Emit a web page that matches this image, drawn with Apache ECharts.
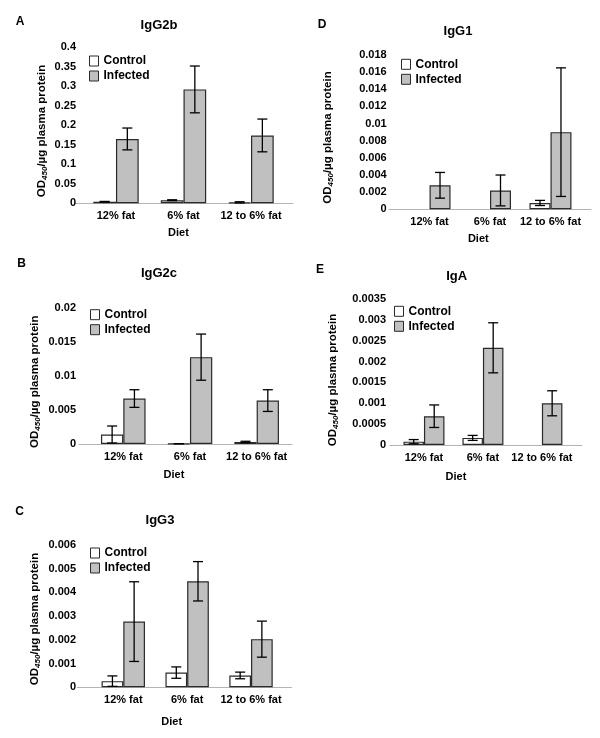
<!DOCTYPE html>
<html>
<head>
<meta charset="utf-8">
<script src="https://cdn.jsdelivr.net/npm/echarts@6/dist/echarts.min.js"></script>
<style>
html,body{margin:0;padding:0;background:#fff;}
#chart{width:600px;height:738px;}
</style>
</head>
<body>
<div id="chart"></div>
<script>
// ---- data ----
const categories = ['12% fat', '6% fat', '12 to 6% fat'];
const panelLetters = ['A', 'B', 'C', 'D', 'E'];
const panelTitles = ['IgG2b', 'IgG2c', 'IgG3', 'IgG1', 'IgA'];
const yMax = [0.4, 0.02, 0.006, 0.018, 0.0035];
const yStep = [0.05, 0.005, 0.001, 0.002, 0.0005];

// IgG2b
const controlA = [0.004, 0.008, 0.0025];
const controlErrA = [0.0008, 0.001, 0.0015];
const infectedA = [0.165, 0.292, 0.174];
const infectedErrA = [0.028, 0.06, 0.042];
// IgG2c
const controlB = [0.0014, 0.00005, 0.0003];
const controlErrB = [0.00125, 0, 0.0001];
const infectedB = [0.0067, 0.0128, 0.0064];
const infectedErrB = [0.0013, 0.0034, 0.0016];
// IgG3
const controlC = [0.00026, 0.00062, 0.0005];
const controlErrC = [0.00022, 0.00024, 0.00014];
const infectedC = [0.00277, 0.00447, 0.00203];
const infectedErrC = [0.00168, 0.00083, 0.00076];
// IgG1
const controlD = [null, null, 0.00074];
const controlErrD = [null, null, 0.0003];
const infectedD = [0.0028, 0.0022, 0.009];
const infectedErrD = [0.0015, 0.0018, 0.0075];
// IgA
const controlE = [0.00008, 0.00017, null];
const controlErrE = [0.00005, 0.00006, null];
const infectedE = [0.00069, 0.00233, 0.001];
const infectedErrE = [0.00027, 0.0006, 0.0003];

const panels = [
  {ctrl: controlA, ctrlErr: controlErrA, inf: infectedA, infErr: infectedErrA},
  {ctrl: controlB, ctrlErr: controlErrB, inf: infectedB, infErr: infectedErrB},
  {ctrl: controlC, ctrlErr: controlErrC, inf: infectedC, infErr: infectedErrC},
  {ctrl: controlD, ctrlErr: controlErrD, inf: infectedD, infErr: infectedErrD},
  {ctrl: controlE, ctrlErr: controlErrE, inf: infectedE, infErr: infectedErrE}
];

// ---- layout (positions / sizes) ----
const layout = [
  {left:75, top:47.3, width:218, height:156, xmin:-0.607, xmax:2.622, bw:22.7, lm:-1, legend:[89,55], letter:[20,22], title:[159,25], yname:[42,131], diet:[178.5,233.3]},
  {left:79, top:308.3, width:213, height:135.7, xmin:-0.664, xmax:2.53, bw:22.3, lm:3, legend:[90,308.7], letter:[21.7,263.3], title:[159,273.3], yname:[35,381.7], diet:[174,475]},
  {left:77.3, top:545, width:214.4, height:142.3, xmin:-0.72, xmax:2.637, bw:21.7, lm:1.3, legend:[90,547], letter:[19.5,511.7], title:[160,520], yname:[35,619], diet:[171.7,721.7]},
  {left:389, top:55, width:202, height:154.3, xmin:-0.67, xmax:2.67, bw:21, lm:2.3, legend:[401,58.3], letter:[322,25], title:[458,31.7], yname:[328,137.5], diet:[478.3,239.3]},
  {left:390, top:299, width:192, height:146, xmin:-0.576, xmax:2.68, bw:20.5, lm:4, legend:[394,305.3], letter:[320,269.3], title:[456.7,276.7], yname:[333,380], diet:[456,477]}
];

const FONT = '"Liberation Sans", Arial, sans-serif';
const grid = [], xAxis = [], yAxis = [], series = [], legend = [], graphic = [];

function errRenderer(bw) {
  return function (params, api) {
    const x = api.value(0), y = api.value(1), e = api.value(2), side = api.value(3);
    const top = api.coord([x, y + e]);
    const bot = api.coord([x, y - e]);
    const cx = top[0] + side * bw / 2;
    const h = 5;
    const st = {stroke: '#000', lineWidth: 1.3};
    return {type: 'group', children: [
      {type: 'line', shape: {x1: cx, y1: top[1], x2: cx, y2: bot[1]}, style: st},
      {type: 'line', shape: {x1: cx - h, y1: top[1], x2: cx + h, y2: top[1]}, style: st},
      {type: 'line', shape: {x1: cx - h, y1: bot[1], x2: cx + h, y2: bot[1]}, style: st}
    ]};
  };
}

panels.forEach(function (p, k) {
  const L = layout[k];
  grid.push({left: L.left, top: L.top, width: L.width, height: L.height, containLabel: false});
  xAxis.push({
    type: 'value', gridIndex: k, min: L.xmin, max: L.xmax,
    axisLine: {show: true, lineStyle: {color: '#b4b4b4', width: 1}},
    axisTick: {show: false}, splitLine: {show: false},
    axisLabel: {
      customValues: [0, 1, 2],
      formatter: function (v) { return categories[Math.round(v)]; },
      fontSize: 11, fontWeight: 'bold', color: '#000', fontFamily: FONT, margin: 7
    }
  });
  yAxis.push({
    type: 'value', gridIndex: k, min: 0, max: yMax[k], interval: yStep[k],
    axisLine: {show: false}, axisTick: {show: false}, splitLine: {show: false},
    axisLabel: {fontSize: 11, fontWeight: 'bold', color: '#000', fontFamily: FONT, margin: L.lm}
  });
  const toPts = arr => arr.map((v, i) => v == null ? [i, '-'] : [i, v]);
  series.push({
    name: 'Control', type: 'bar', xAxisIndex: k, yAxisIndex: k,
    barWidth: L.bw, barGap: '0%',
    itemStyle: {color: '#ffffff', borderColor: '#2a2a2a', borderWidth: 1.2},
    data: toPts(p.ctrl), animation: false
  });
  series.push({
    name: 'Infected', type: 'bar', xAxisIndex: k, yAxisIndex: k,
    barWidth: L.bw, barGap: '0%',
    itemStyle: {color: '#c0c0c0', borderColor: '#2a2a2a', borderWidth: 1.2},
    data: toPts(p.inf), animation: false
  });
  const errData = [];
  p.ctrl.forEach((v, i) => { if (v != null) errData.push([i, v, p.ctrlErr[i], -1]); });
  p.inf.forEach((v, i) => { if (v != null) errData.push([i, v, p.infErr[i], 1]); });
  series.push({
    type: 'custom', xAxisIndex: k, yAxisIndex: k, z: 5, silent: true,
    renderItem: errRenderer(L.bw), encode: {x: 0, y: 1},
    data: errData, animation: false
  });
  legend.push({
    left: L.legend[0], top: L.legend[1], orient: 'vertical', padding: 0,
    itemWidth: 9, itemHeight: 10, itemGap: 3, icon: 'rect', selectedMode: false,
    itemStyle: {borderColor: '#2a2a2a', borderWidth: 1},
    textStyle: {fontSize: 12, fontWeight: 'bold', color: '#000', fontFamily: FONT, lineHeight: 12},
    data: ['Control', 'Infected']
  });
  graphic.push({type: 'text', x: L.letter[0], y: L.letter[1],
    style: {text: panelLetters[k], font: 'bold 12px ' + FONT, fill: '#000', textAlign: 'center', textVerticalAlign: 'middle'}});
  graphic.push({type: 'text', x: L.title[0], y: L.title[1],
    style: {text: panelTitles[k], font: 'bold 13px ' + FONT, fill: '#000', textAlign: 'center', textVerticalAlign: 'middle'}});
  graphic.push({type: 'text', x: L.diet[0], y: L.diet[1],
    style: {text: 'Diet', font: 'bold 11px ' + FONT, fill: '#000', textAlign: 'center', textVerticalAlign: 'middle'}});
  graphic.push({type: 'text', x: L.yname[0], y: L.yname[1], rotation: Math.PI / 2,
    style: {
      text: '{a|OD}{s|450}{a|/µg plasma protein}',
      textAlign: 'center', textVerticalAlign: 'middle', fill: '#000',
      rich: {
        a: {fontSize: 11.5, fontWeight: 'bold', fontFamily: FONT, lineHeight: 14, fill: '#000'},
        s: {fontSize: 8, fontWeight: 'bold', fontStyle: 'italic', fontFamily: FONT, lineHeight: 8, verticalAlign: 'bottom', fill: '#000'}
      }
    }});
});

const chart = echarts.init(document.getElementById('chart'), null, {renderer: 'canvas'});
chart.setOption({
  backgroundColor: '#ffffff',
  animation: false,
  grid: grid, xAxis: xAxis, yAxis: yAxis, legend: legend, series: series, graphic: graphic
});
</script>
</body>
</html>
